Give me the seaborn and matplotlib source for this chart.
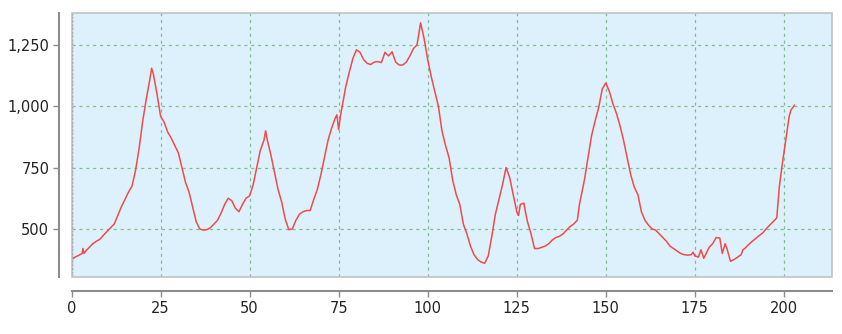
import matplotlib
matplotlib.use("Agg")
import matplotlib.pyplot as plt
import matplotlib.ticker as mticker
from matplotlib.patches import Rectangle
import seaborn as sns
import pandas as pd

distance = [0, 1, 2, 3, 3.2, 3.5, 4, 5, 6, 7, 8, 9, 10, 11, 12, 13, 14, 15, 16, 17,
            18, 19, 20, 21, 22, 22.5, 23, 24, 25, 26, 27, 28, 29, 30, 31, 32, 33, 34,
            35, 36, 37, 38, 39, 40, 41, 42, 43, 44, 45, 46, 47, 48, 49, 50, 51, 52,
            53, 54, 54.5, 55, 56, 57, 58, 59, 60, 61, 62, 63, 64, 65, 66, 67, 68, 69,
            70, 71, 72, 73, 74, 74.5, 75, 75.5, 76, 77, 78, 79, 80, 81, 82, 83, 84,
            85, 86, 87, 88, 89, 90, 91, 92, 93, 94, 95, 96, 97, 98, 99, 100, 101, 102,
            103, 104, 105, 106, 107, 108, 109, 110, 111, 112, 113, 114, 115, 116, 117,
            118, 119, 120, 121, 122, 123, 124, 125, 125.5, 126, 127, 127.5, 128, 129,
            130, 131, 132, 133, 134, 135, 136, 137, 138, 139, 140, 141, 142, 142.6,
            144, 145, 146, 147, 148, 149, 150, 151, 152, 153, 154, 155, 156, 157, 158,
            159, 160, 161, 162, 163, 164, 165, 166, 167, 168, 169, 170, 171, 172, 173,
            174, 174.5, 175, 176, 176.7, 177.5, 178, 179, 180, 181, 182, 182.7, 183.5,
            184, 185, 186, 187, 188, 188.5, 189, 190, 191, 192, 193, 194, 195, 196, 197,
            198, 198.7, 199.5, 200.5, 201.5, 202, 203]

elevation = [375, 385, 392, 400, 420, 400, 410, 425, 440, 450, 458, 475, 490, 505, 520,
             555, 590, 620, 650, 675, 740, 830, 940, 1030, 1110, 1155, 1130, 1050, 960,
             935, 895, 870, 840, 810, 750, 690, 650, 590, 530, 500, 495, 497, 505, 520,
             535, 565, 600, 625, 615, 585, 570, 600, 625, 635, 680, 750, 820, 860, 900,
             860, 800, 730, 660, 610, 540, 497, 500, 535, 560, 570, 575, 575, 620, 660,
             720, 790, 860, 910, 950, 965, 905, 960, 1000, 1080, 1140, 1195, 1230, 1220,
             1190, 1175, 1170, 1180, 1182, 1178, 1220, 1205, 1222, 1180, 1168, 1168,
             1180, 1205, 1235, 1250, 1340, 1275, 1190, 1120, 1060, 1000, 900, 840, 790,
             700, 640, 600, 520, 480, 430, 395, 375, 365, 360, 390, 470, 560, 620, 680,
             750, 710, 640, 570, 555, 600, 605, 565, 530, 480, 420, 420, 425, 430, 440,
             455, 465, 470, 480, 495, 510, 520, 535, 600, 700, 790, 880, 940, 995, 1070,
             1095, 1060, 1010, 970, 920, 860, 790, 720, 670, 640, 570, 535, 515, 500,
             495, 480, 465, 450, 430, 420, 410, 400, 395, 393, 395, 405, 390, 385, 415,
             380, 395, 425, 440, 465, 463, 400, 440, 420, 368, 375, 385, 395, 415, 420,
             435, 448, 460, 472, 483, 500, 515, 530, 545, 670, 760, 860, 960, 985, 1005]

x_ticks = [0, 25, 50, 75, 100, 125, 150, 175, 200]
y_ticks = [500, 750, 1000, 1250]

df = pd.DataFrame({"distance": distance, "elevation": elevation})

sns.set_style("white")
plt.rcParams['font.family'] = ['DejaVu Sans']

W, H = 842, 334
fig = plt.figure(figsize=(W / 100, H / 100), dpi=100)
ax = fig.add_axes([71.5 / W, (H - 277) / H, (832 - 71.5) / W, (277 - 13) / H])
ax.set_facecolor("#DDF1FC")

sns.lineplot(data=df, x="distance", y="elevation", ax=ax, color="#F04A4A",
             linewidth=1.1, estimator=None, sort=False)

ax.set_xlim(0, 213.5)
ax.set_ylim(304, 1380)
ax.set_xticks(x_ticks)
ax.set_yticks(y_ticks)
ax.yaxis.set_major_formatter(mticker.FuncFormatter(lambda v, p: f"{v:,.0f}"))
ax.set_xlabel("")
ax.set_ylabel("")

ax.grid(True, color="#82BC93", linestyle=(0, (2.5, 3)), linewidth=0.9)
ax.set_axisbelow(True)

ax.axvline(0, color="#3A3F8F", linestyle=(0, (1.5, 1.5)), linewidth=0.9, zorder=3)

for s in ["top", "right"]:
    ax.spines[s].set_visible(False)
ax.spines["left"].set_position(("outward", 9))
ax.spines["bottom"].set_position(("outward", 10))
for s in ["left", "bottom"]:
    ax.spines[s].set_color("#8C8C8C")
    ax.spines[s].set_linewidth(1.5)

ax.add_patch(Rectangle((0, 0), 1, 1, transform=ax.transAxes, fill=False,
                       edgecolor="#C2C2C2", linewidth=1.2, zorder=4, clip_on=False))

ax.tick_params(axis="both", which="major", direction="out", length=4, width=1,
               color="#8C8C8C", labelsize=10.5, labelcolor="#222222", pad=3)
ax.tick_params(axis="y", left=True)
ax.tick_params(axis="x", bottom=True)

fig.savefig("out.png", dpi=100)
